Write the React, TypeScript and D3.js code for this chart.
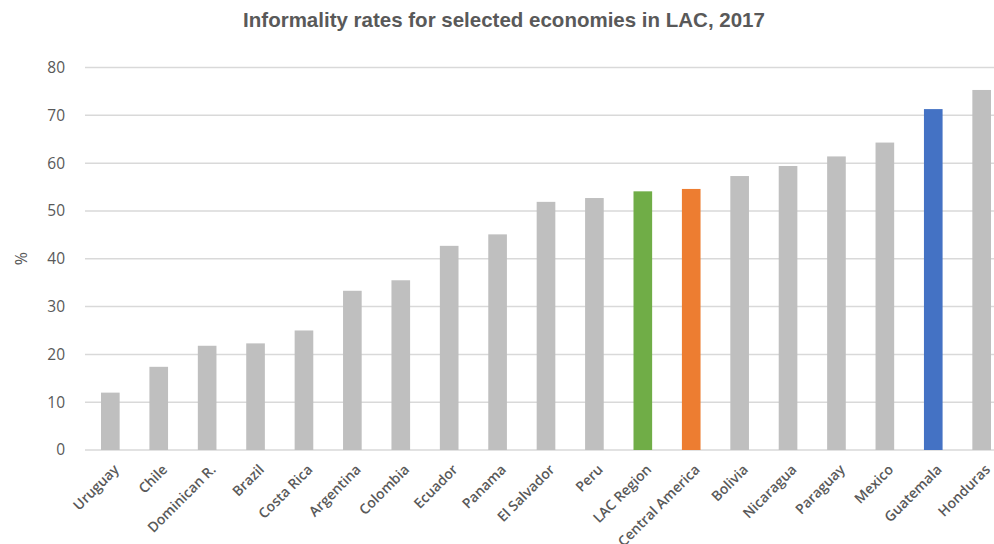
import React from "react";
import * as d3 from "d3";

const categories = ["Uruguay","Chile","Dominican R.","Brazil","Costa Rica","Argentina","Colombia","Ecuador","Panama","El Salvador","Peru","LAC Region","Central America","Bolivia","Nicaragua","Paraguay","Mexico","Guatemala","Honduras"];
const values = [12.0,17.4,21.8,22.3,25.0,33.3,35.5,42.7,45.1,51.9,52.7,54.1,54.6,57.3,59.4,61.4,64.3,71.3,75.3];
const highlight: Record<string, string> = { "LAC Region": "#70ad47", "Central America": "#ed7d31", "Guatemala": "#4472c4" };
const yTicks = [0,10,20,30,40,50,60,70,80];
const title = "Informality rates for selected economies in LAC, 2017";
const yLabel = "%";

export default function App() {
  const W = 994, H = 544;
  const x = d3.scaleBand<string>().domain(categories).range([86, 1006]).paddingInner(0.615).paddingOuter(0.31);
  const y = d3.scaleLinear().domain([0, 80]).range([450, 67.5]);
  const font = "'Open Sans', 'Liberation Sans', sans-serif";
  return (
    <svg width={W} height={H} style={{ position: "absolute", left: 0, top: 0, background: "#fff" }}>
      <text x={504} y={27} textAnchor="middle" fontFamily="'Liberation Sans Narrow', 'Liberation Sans', sans-serif" fontWeight="bold" fontSize={20.5} fill="#595959">{title}</text>
      {yTicks.map(t => (
        <g key={t}>
          <line x1={85} x2={W} y1={y(t)} y2={y(t)} stroke="#d9d9d9" strokeWidth={1.5} />
          <text x={65} y={y(t)} dy="0.35em" textAnchor="end" fontFamily={font} fontSize={15.5} fill="#595959">{t}</text>
        </g>
      ))}
      <text transform={`translate(21,${y(40)}) rotate(-90)`} textAnchor="middle" dy="0.35em" fontFamily={font} fontSize={16} fill="#595959">{yLabel}</text>
      {categories.map((c, i) => (
        <rect key={c} x={x(c)} y={y(values[i])} width={x.bandwidth()} height={y(0) - y(values[i])} fill={highlight[c] || "#bfbfbf"} />
      ))}
      {categories.map(c => {
        const cx = (x(c) as number) + x.bandwidth() / 2;
        return (
          <text key={c} transform={`translate(${cx + 6},${467}) rotate(-45)`} textAnchor="end" dy="0.35em" fontFamily={font} fontSize={14} fontWeight={600} fill="#595959">{c}</text>
        );
      })}
    </svg>
  );
}
